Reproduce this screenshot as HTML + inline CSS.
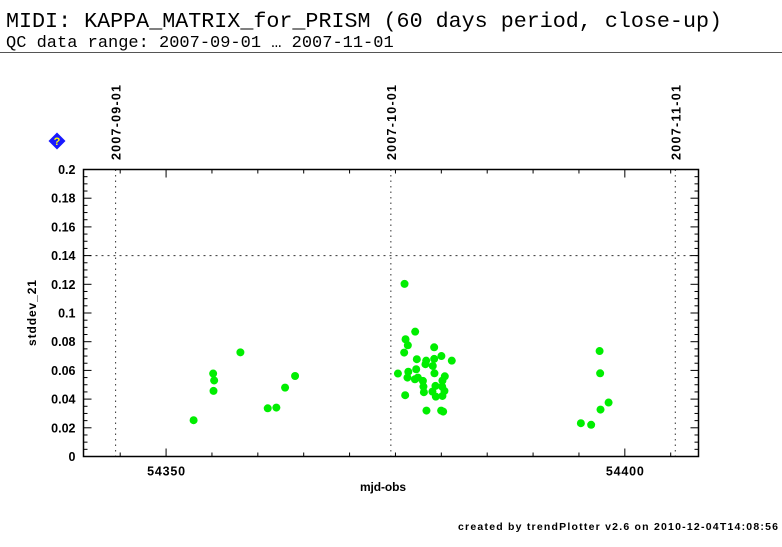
<!DOCTYPE html>
<html><head><meta charset="utf-8"><style>
body{margin:0;background:#fff;width:782px;height:542px;overflow:hidden;font-family:"Liberation Sans",sans-serif}
</style></head><body>
<svg width="782" height="542" xmlns="http://www.w3.org/2000/svg">
<text x="6" y="27" font-family="Liberation Mono, monospace" font-size="21.7" textLength="716" fill="#000">MIDI: KAPPA_MATRIX_for_PRISM (60 days period, close-up)</text>
<text x="6" y="47" font-family="Liberation Mono, monospace" font-size="17" fill="#000">QC data range: 2007-09-01 … 2007-11-01</text>
<line x1="0" y1="52.5" x2="782" y2="52.5" stroke="#555" stroke-width="1"/>
<g><rect x="51" y="135" width="12" height="12" fill="#1a1aff" transform="rotate(45 57 141)"/><text x="57" y="145" text-anchor="middle" font-size="11" font-weight="bold" fill="#ff0">?</text></g>
<g id="plot"></g>
<text x="383" y="491" text-anchor="middle" font-size="12" font-weight="bold" textLength="46">mjd-obs</text>
<text transform="translate(36 313) rotate(-90)" text-anchor="middle" font-size="12" font-weight="bold" textLength="66">stddev_21</text>
<text x="458" y="530" font-size="10.5" font-weight="bold" textLength="320">created by trendPlotter v2.6 on 2010-12-04T14:08:56</text>
</svg>
<script>
const mjd=[54353.0,54355.13,54355.24,54355.17,54358.1,54361.08,54362.02,54362.97,54364.06,
54375.27,54375.99,54377.15,54376.1,54376.35,54375.95,54377.33,54376.4,54376.31,54377.26,54377.12,54377.44,54377.99,54378.05,54378.1,54376.06,54378.35,54378.27,54379.22,54379.22,54379.07,54379.25,54380.01,54381.14,54380.38,54380.12,54379.36,54379.03,54379.4,54380.09,54380.34,54380.12,54378.38,54379.98,54380.2,
54395.21,54396.33,54397.25,54397.31,54397.35,54398.23];
const vals=[0.0253,0.0578,0.053,0.0457,0.0726,0.0336,0.0341,0.048,0.0561,
0.0578,0.1203,0.087,0.0817,0.0775,0.0724,0.0678,0.0591,0.055,0.0608,0.0538,0.055,0.0527,0.0487,0.0448,0.0427,0.0668,0.0643,0.0761,0.068,0.0631,0.058,0.07,0.0668,0.0559,0.0529,0.0492,0.0452,0.0417,0.0487,0.0457,0.0422,0.032,0.032,0.0313,
0.0232,0.0221,0.0735,0.058,0.0327,0.0376];
const yTicks=[0,0.02,0.04,0.06,0.08,0.1,0.12,0.14,0.16,0.18,0.2];
const yTickLabels=["0","0.02","0.04","0.06","0.08","0.1","0.12","0.14","0.16","0.18","0.2"];
const xTicks=[54350,54400];
const dateLabels=["2007-09-01","2007-10-01","2007-11-01"];
const dateMjd=[54344,54374,54405];
const threshold=0.14;

const L=83.5,R=698.5,T=169.5,B=456.5;
const xMin=54341,xMax=54408.03,yMin=0,yMax=0.2;
const X=v=>L+(v-xMin)/(xMax-xMin)*(R-L);
const Y=v=>B-(v-yMin)/(yMax-yMin)*(B-T);
const NS="http://www.w3.org/2000/svg";
const g=document.getElementById('plot');
function mk(tag,a,p){const e=document.createElementNS(NS,tag);for(const k in a)e.setAttribute(k,a[k]);(p||g).appendChild(e);return e;}
dateLabels.forEach((d,i)=>{const x=X(dateMjd[i]+0.5);
 const l=mk('line',{x1:x,y1:T,x2:x,y2:B,stroke:'#333','stroke-dasharray':'1.5,4'});
 
 
 const t=mk('text',{transform:`translate(${x+5} 160) rotate(-90)`,'font-size':'12.5','font-weight':'bold',textLength:'75'});
 t.textContent=d;
 
 
});
const th=mk('line',{x1:L,y1:Y(threshold),x2:R,y2:Y(threshold),stroke:'#333','stroke-dasharray':'2,4'});


const fr=mk('rect',{x:L,y:T,width:R-L,height:B-T,fill:'none',stroke:'#000','stroke-width':1.5});


for(let v=0;v<=0.2001;v+=0.005){const y=Y(v);const maj=Math.abs(v/0.02-Math.round(v/0.02))<1e-6;const len=maj?8:4;
 mk('line',{x1:L,y1:y,x2:L+len,y2:y,stroke:'#000'});mk('line',{x1:R,y1:y,x2:R-len,y2:y,stroke:'#000'});}
yTicks.forEach((v,i)=>{const t=mk('text',{x:L-8,y:Y(v)+4.5,'text-anchor':'end','font-size':'12.5','font-weight':'bold'});
 t.textContent=yTickLabels[i];
 
 });
for(let v=54345;v<=54405;v+=5){const x=X(v);const maj=v%50===0;const len=maj?8:4;
 mk('line',{x1:x,y1:B,x2:x,y2:B-len,stroke:'#000'});mk('line',{x1:x,y1:T,x2:x,y2:T+len,stroke:'#000'});}
xTicks.forEach(v=>{const t=mk('text',{x:X(v),y:B+19,'text-anchor':'middle','font-size':'12.5','font-weight':'bold',textLength:'38'});
 t.textContent=v;
 
 });
mjd.forEach((m,i)=>{const c=mk('circle',{cx:X(m),cy:Y(vals[i]),r:4,fill:'#00ee00'});
 
 });
</script>
</body></html>
